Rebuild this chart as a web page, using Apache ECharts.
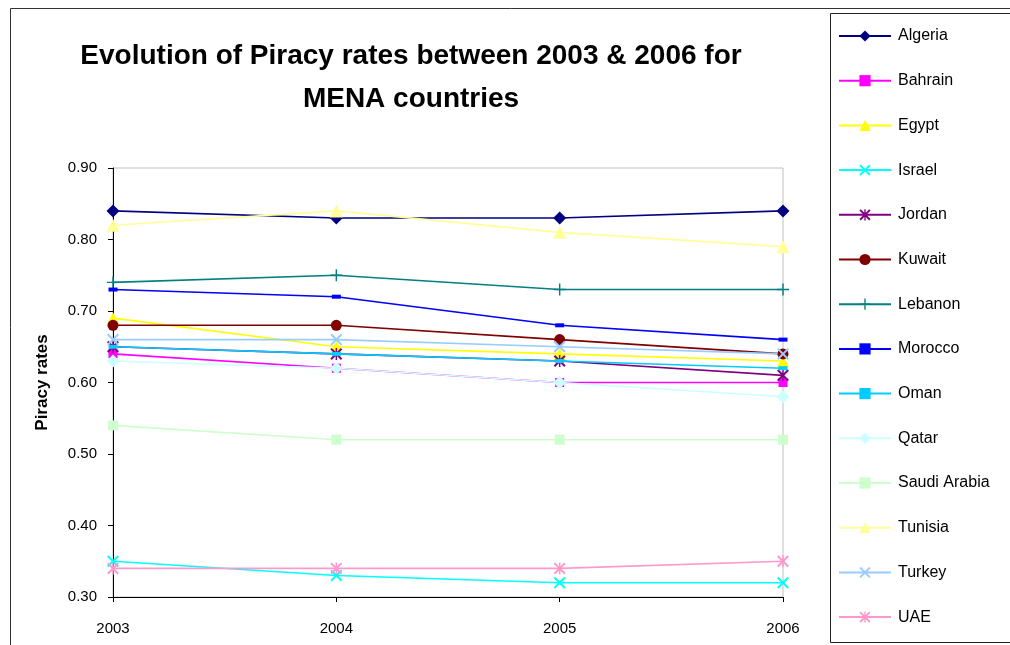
<!DOCTYPE html>
<html>
<head>
<meta charset="utf-8">
<script src="https://cdn.jsdelivr.net/npm/echarts@6/dist/echarts.min.js"></script>
<style>
  html, body { margin: 0; padding: 0; background: #fff; }
  #chart { width: 1010px; height: 645px; }
</style>
</head>
<body>
<div id="chart"></div>
<script>
const years = ['2003', '2004', '2005', '2006']
const countries = ['Algeria', 'Bahrain', 'Egypt', 'Israel', 'Jordan', 'Kuwait', 'Lebanon',
  'Morocco', 'Oman', 'Qatar', 'Saudi Arabia', 'Tunisia', 'Turkey', 'UAE']
const algeria = [0.84, 0.83, 0.83, 0.84]
const bahrain = [0.64, 0.62, 0.60, 0.60]
const egypt = [0.69, 0.65, 0.64, 0.63]
const israel = [0.35, 0.33, 0.32, 0.32]
const jordan = [0.65, 0.64, 0.63, 0.61]
const kuwait = [0.68, 0.68, 0.66, 0.64]
const lebanon = [0.74, 0.75, 0.73, 0.73]
const morocco = [0.73, 0.72, 0.68, 0.66]
const oman = [0.65, 0.64, 0.63, 0.62]
const qatar = [0.63, 0.62, 0.60, 0.58]
const saudiArabia = [0.54, 0.52, 0.52, 0.52]
const tunisia = [0.82, 0.84, 0.81, 0.79]
const turkey = [0.66, 0.66, 0.65, 0.64]
const uae = [0.34, 0.34, 0.34, 0.35]
const values = [algeria, bahrain, egypt, israel, jordan, kuwait, lebanon,
  morocco, oman, qatar, saudiArabia, tunisia, turkey, uae]

// marker shapes
const X = 'path://M0,1.2 L1.2,0 L10,8.8 L8.8,10 Z M8.8,0 L10,1.2 L1.2,10 L0,8.8 Z'
const STAR = 'path://M0,1.2 L1.2,0 L10,8.8 L8.8,10 Z M8.8,0 L10,1.2 L1.2,10 L0,8.8 Z M4.4,0 H5.6 V10 H4.4 Z'
const PLUS = 'path://M4.4,0 H5.6 V10 H4.4 Z M0,4.4 H10 V5.6 H0 Z'

const styles = [
  { color: '#000080', symbol: 'diamond', size: 13 },
  { color: '#FF00FF', symbol: 'rect', size: 9 },
  { color: '#FFFF00', symbol: 'triangle', size: 12 },
  { color: '#00FFFF', symbol: X, size: 12 },
  { color: '#800080', symbol: STAR, size: 12 },
  { color: '#800000', symbol: 'circle', size: 11 },
  { color: '#008080', symbol: PLUS, size: 12 },
  { color: '#0000FF', symbol: 'rect', size: [9, 4] },
  { color: '#00CCFF', symbol: 'rect', size: [9, 4] },
  { color: '#CCFFFF', symbol: 'diamond', size: 13 },
  { color: '#CCFFCC', symbol: 'rect', size: 10 },
  { color: '#FFFF99', symbol: 'triangle', size: 13 },
  { color: '#99CCFF', symbol: X, size: 12 },
  { color: '#FF99CC', symbol: STAR, size: 12 }
]

const series = countries.map((name, i) => ({
  name,
  type: 'line',
  data: values[i],
  symbol: styles[i].symbol,
  symbolSize: styles[i].size,
  showAllSymbol: true,
  lineStyle: { color: styles[i].color, width: 1.6 },
  itemStyle: { color: styles[i].color },
  emphasis: { disabled: true },
  animation: false
}))

const chart = echarts.init(document.getElementById('chart'))
chart.setOption({
  backgroundColor: '#fff',
  textStyle: { fontFamily: 'Liberation Sans, Arial, sans-serif' },
  title: {
    text: 'Evolution of Piracy rates between 2003 & 2006 for\nMENA countries',
    left: 406,
    top: 30,
    textAlign: 'center',
    textStyle: { fontSize: 28, fontWeight: 'bold', color: '#000', lineHeight: 43 }
  },
  graphic: [
    {
      type: 'rect',
      shape: { x: 10.5, y: 8.5, width: 1010, height: 660 },
      style: { fill: 'none', stroke: '#333', lineWidth: 1 },
      silent: true,
      z: -1
    },
    {
      type: 'rect',
      shape: { x: 830.5, y: 13.5, width: 200, height: 629 },
      style: { fill: '#fff', stroke: '#222', lineWidth: 1 },
      silent: true,
      z: 0
    }
  ],
  legend: {
    orient: 'vertical',
    left: 838,
    top: 28,
    itemWidth: 52,
    itemHeight: 14,
    itemGap: 28.7,
    padding: 0,
    selectedMode: false,
    textStyle: { fontSize: 16, color: '#000', padding: [0, 0, 0, 2] },
    data: countries,
    z: 5
  },
  grid: {
    left: 113,
    right: 227,
    top: 168,
    bottom: 48,
    show: true,
    borderColor: '#c0c0c0',
    borderWidth: 1
  },
  xAxis: {
    type: 'category',
    data: years,
    boundaryGap: false,
    axisLine: { lineStyle: { color: '#000', width: 1 } },
    axisTick: { show: true, alignWithLabel: true, length: 5, lineStyle: { color: '#000' } },
    axisLabel: { color: '#000', fontSize: 15, margin: 24 },
    splitLine: { show: false }
  },
  yAxis: {
    type: 'value',
    min: 0.3,
    max: 0.9,
    interval: 0.1,
    name: 'Piracy rates',
    nameLocation: 'middle',
    nameGap: 62,
    nameTextStyle: { fontSize: 17, fontWeight: 'bold', color: '#000' },
    axisLine: { show: true, lineStyle: { color: '#000', width: 1 } },
    axisTick: { show: true, length: 5, lineStyle: { color: '#000' } },
    axisLabel: { color: '#000', fontSize: 15, margin: 16, formatter: v => v.toFixed(2) },
    splitLine: { show: false }
  },
  series
})
</script>
</body>
</html>
